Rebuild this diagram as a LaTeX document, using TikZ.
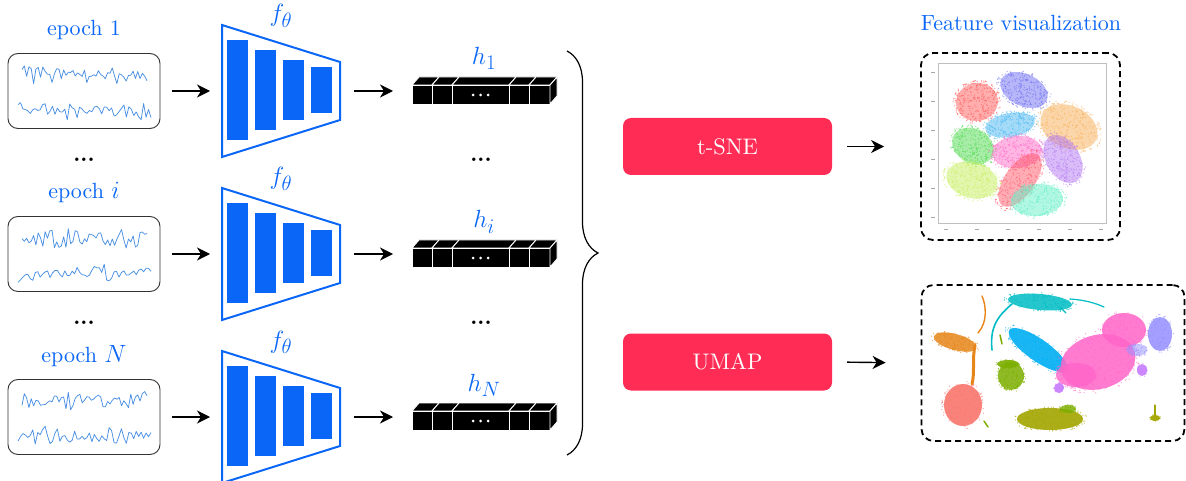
\documentclass[tikz,border=0pt]{standalone}
\usepackage{fontspec}
\setmainfont{lmroman10-regular.otf}[BoldFont=lmroman10-bold.otf, ItalicFont=lmroman10-italic.otf]
\usetikzlibrary{arrows.meta,decorations.pathreplacing}

\definecolor{mainblue}{HTML}{0A66F6}
\definecolor{wavecol}{HTML}{4A8FE2}
\definecolor{methodred}{HTML}{FF2D55}
% t-SNE cluster colours
\definecolor{tsA}{HTML}{FF5C5C}
\definecolor{tsB}{HTML}{6E6EF2}
\definecolor{tsC}{HTML}{4DB8F2}
\definecolor{tsD}{HTML}{F7AE55}
\definecolor{tsE}{HTML}{4FD94F}
\definecolor{tsF}{HTML}{FF6EC8}
\definecolor{tsG}{HTML}{B47AF2}
\definecolor{tsH}{HTML}{C6EE5C}
\definecolor{tsI}{HTML}{FF5A6A}
\definecolor{tsJ}{HTML}{66EFC6}
% UMAP cluster colours
\definecolor{umSalmon}{HTML}{F8766D}
\definecolor{umOrange}{HTML}{E6861A}
\definecolor{umOlive}{HTML}{A3A500}
\definecolor{umGreen}{HTML}{7CAE00}
\definecolor{umTeal}{HTML}{00BCC4}
\definecolor{umBlue}{HTML}{00AEF2}
\definecolor{umLav}{HTML}{958FFF}
\definecolor{umPink}{HTML}{FF64C8}
\definecolor{umPurple}{HTML}{C77CFF}

% math symbols set at a size the math fonts provide
\newcommand\epochsym[1]{{\fontsize{24.88}{28}\selectfont$#1$}}

\tikzset{
  lbl/.style={font=\fontsize{22}{26}\selectfont, text=mainblue, inner sep=0},
  mlbl/.style={font=\fontsize{24.88}{28}\selectfont, text=mainblue, inner sep=0},
  plain/.style={font=\fontsize{22}{26}\selectfont\bfseries, inner sep=0},
  epochbox/.style={draw=black!80, line width=0.9, rounded corners=10,
    minimum width=152, minimum height=75, inner sep=0},
  ghost/.style={inner sep=0, outer sep=0},
  encoder/.style={draw=mainblue, line width=2, line join=miter},
  bar/.style={fill=mainblue},
  wave/.style={wavecol, line width=0.75, line join=round},
  cell/.style={fill=black, draw=white, line width=0.9},
  arr/.style={-{Stealth[length=13pt,width=13pt,inset=4pt]}, line width=1.4, black},
  method/.style={fill=methodred, rounded corners=8, minimum width=209,
    minimum height=57, text=white, font=\fontsize{22.5}{27}\selectfont, inner sep=0},
  vizbox/.style={draw=black, line width=1.8, dash pattern=on 6pt off 4pt,
    rounded corners=12, inner sep=0},
}

% one scatter cluster: cx cy rx ry rotation colour dots fill-opacity
\newcommand\blob[8]{%
  \begin{scope}[shift={(#1,#2)}, rotate=#5]
    \fill[#6, opacity=#8] (0,0) ellipse [x radius=#3, y radius=#4];
    \foreach \k in {1,...,#7}{
      \pgfmathsetmacro\bang{360*rnd}
      \pgfmathsetmacro\brad{1.15*sqrt(rnd)}
      \fill[#6, opacity=.6] (\bang:{#3*\brad} and {#4*\brad}) circle (0.7);
    }
  \end{scope}}

% noisy signal trace: x0 x1 y amplitude phase
\newcommand\trace[5]{%
  \draw[wave] plot[domain=#1:#2, samples=55] (\x, {#3 + #4*(0.35+0.65*abs(sin(2.6*\x+#5)))*rand});}

% feature vector drawn as a row of cubes, front face top at y = #1
\newcommand\featvec[1]{%
  \foreach \xa/\xb in {412/432, 432/452, 452/509, 509/529, 529/550}{
    \filldraw[cell] (\xa,#1) -- (\xa+7,#1-8) -- (\xb+7,#1-8) -- (\xb,#1) -- cycle;
    \filldraw[cell] (\xa,#1) rectangle (\xb,#1+19);
  }
  \filldraw[cell] (550,#1) -- (557,#1-8) -- (557,#1+11) -- (550,#1+19) -- cycle;
  \foreach \xd in {473,480.5,488}{\fill[white] (\xd,#1+10) circle (1.5);}
}

\begin{document}
\begin{tikzpicture}[x=1pt, y=-1pt]
\useasboundingbox (0,0) rectangle (1186,481);
\pgfmathsetseed{17}

% ---------- three rows: signal, encoder, feature vector ----------
\foreach \c/\lab/\hl/\nm/\ph in {91/1/1/1/0, 254/\epochsym{i}/i/2/120, 417/\epochsym{N}/N/3/240}{
  % signal box
  \node[epochbox] (e\nm) at (84,\c) {};
  \node[lbl, anchor=base] (el\nm) at (84,\c-55) {epoch \lab};
  \trace{22}{147}{\c-16}{10}{\ph}
  \trace{18}{151}{\c+19}{10}{\ph+90}
  % encoder
  \node[ghost, minimum width=118, minimum height=132] (f\nm) at (281,\c) {};
  \draw[encoder] (222,\c-66) -- (340,\c-29) -- (340,\c+29) -- (222,\c+66) -- cycle;
  \fill[bar] (227,\c-51) rectangle (248,\c+49);
  \fill[bar] (255,\c-41) rectangle (276,\c+39);
  \fill[bar] (283,\c-31) rectangle (304,\c+29);
  \fill[bar] (311,\c-24) rectangle (332,\c+22);
  \node[mlbl, anchor=base] (fl\nm) at (281,\c-69) {$f_\theta$};
  % feature vector
  \featvec{\c-6}
  \node[ghost, minimum width=145, minimum height=27] (v\nm) at (484.5,\c+2) {};
  \node[mlbl, anchor=base] (hl\nm) at (484,\c-26) {$h_\hl$};
  % connectors
  \draw[arr, shorten <=12pt, shorten >=12pt] (e\nm.east) -- (f\nm.west);
  \draw[arr, shorten <=14pt, shorten >=19pt] (f\nm.east) -- ([yshift=2pt]v\nm.west);
}

% ellipsis between rows
\node[plain] (d1) at (84,160) {...};
\node[plain] (d2) at (84,323) {...};
\node[plain] (d3) at (481,160) {...};
\node[plain] (d4) at (481,323) {...};

% brace gathering all feature vectors
\coordinate (bt) at (567,51);
\coordinate (bb) at (567,455);
\draw[decorate, decoration={brace, amplitude=31pt}, line width=1.2] (bt) -- (bb);

% ---------- projection methods ----------
\node[method] (tsne) at (727.5,146.5) {t-SNE};
\node[method] (umap) at (727.5,362) {UMAP};

\node[lbl, anchor=base] (title) at (1021,31) {Feature visualization};
\node[vizbox, minimum width=199, minimum height=187] (vt) at (1020.5,146.5) {};
\node[vizbox, minimum width=263, minimum height=156] (vu) at (1053,363) {};

\draw[arr, shorten <=15pt, shorten >=36pt] (tsne.east) -- (vt.west);
\draw[arr, shorten <=15pt, shorten >=35pt] (umap.east) -- (vu.west);

% ---------- t-SNE scatter ----------
\draw[black!25, line width=0.7] (938,63) rectangle (1106,223);
\foreach \ty in {72,101,130,159,188,217}{\draw[black!35, line width=0.8] (931,\ty) -- (935,\ty);}
\foreach \tx in {946,977,1008,1039,1070,1101}{\draw[black!35, line width=0.8] (\tx-2,229) -- (\tx+2,229);}
\blob{977}{102}{21}{19}{10}{tsA}{300}{0.5}
\blob{1024}{90}{25}{16}{-25}{tsB}{300}{0.5}
\blob{1010}{125}{25}{12}{10}{tsC}{260}{0.5}
\blob{1069}{127}{30}{21}{-25}{tsD}{340}{0.5}
\blob{973}{146}{22}{17}{-30}{tsE}{280}{0.5}
\blob{1017}{152}{25}{16}{5}{tsF}{300}{0.5}
\blob{1063}{159}{26}{17}{-60}{tsG}{300}{0.5}
\blob{972}{180}{26}{18}{-15}{tsH}{300}{0.5}
\blob{1020}{180}{31}{15}{55}{tsI}{300}{0.5}
\blob{1037}{200}{26}{16}{5}{tsJ}{280}{0.5}

% ---------- UMAP scatter ----------
% thin filaments
\draw[umTeal, line width=1.6, line cap=round] (1012,304) .. controls (995,318) and (990,330) .. (992,350);
\draw[umTeal, line width=1.2, line cap=round] (1070,299) .. controls (1085,300) and (1095,303) .. (1104,307);
\draw[umTeal, line width=1.2, line cap=round] (1060,307) -- (1066,313);
\draw[umOrange, line width=1.4, line cap=round] (978,333) .. controls (988,322) and (986,305) .. (982,296);
\draw[umOrange, line width=3, line cap=round] (975,345) .. controls (972,360) and (975,372) .. (972,384);
\draw[umOlive, line width=1.2, line cap=round] (1155,405) -- (1155,416);
\draw[umGreen, line width=1.5, line cap=round] (984,421) -- (988,427);
\draw[umGreen, line width=1.5, line cap=round] (1000,335) -- (1002,344);
% clusters
\blob{1040}{302}{32}{8}{-5}{umTeal}{160}{0.85}
\blob{955}{342}{22}{8}{-15}{umOrange}{140}{0.85}
\blob{963}{405}{19}{21}{0}{umSalmon}{160}{0.9}
\blob{1038}{350}{35}{11}{-35}{umBlue}{180}{0.9}
\blob{1098}{362}{38}{27}{15}{umPink}{260}{0.85}
\blob{1124}{330}{22}{17}{0}{umPink}{150}{0.85}
\blob{1076}{375}{20}{12}{0}{umPink}{100}{0.8}
\blob{1160}{334}{12}{17}{0}{umLav}{120}{0.85}
\blob{1137}{350}{10}{6}{0}{umLav}{50}{0.5}
\blob{1059}{388}{5}{5}{0}{umPurple}{25}{0.9}
\blob{1142}{370}{5}{6}{0}{umPurple}{25}{0.9}
\blob{1011}{376}{13}{14}{0}{umGreen}{140}{0.85}
\blob{1008}{364}{11}{4}{0}{umGreen}{40}{0.9}
\blob{1050}{419}{33}{11}{0}{umOlive}{200}{0.9}
\blob{1068}{409}{8}{4}{0}{umGreen}{40}{0.8}
\blob{1155}{418}{5}{3}{0}{umOlive}{20}{0.95}
\end{tikzpicture}
\end{document}
